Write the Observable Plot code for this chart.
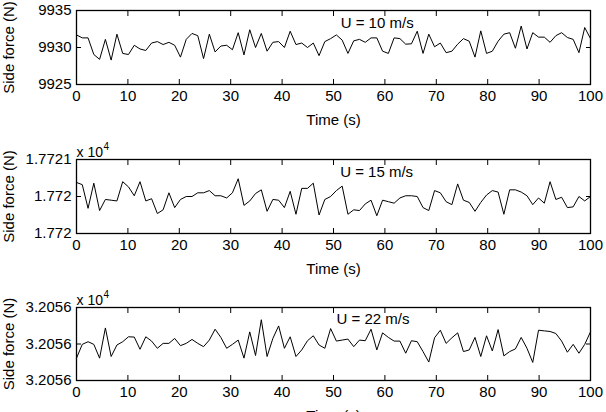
<!DOCTYPE html>
<html><head><meta charset="utf-8">
<script src="https://cdn.jsdelivr.net/npm/d3@7"></script>
<script src="https://cdn.jsdelivr.net/npm/@observablehq/plot@0.6"></script>
<style>
html,body{margin:0;padding:0;background:#fff;overflow:hidden;width:606px;height:412px}
.panel{height:148px;overflow:visible}
svg{overflow:visible}
</style></head><body><div id="c"></div>
<script>
const xTicks = [0,10,20,30,40,50,60,70,80,90,100];
const xLabel = "Time (s)";
const yLabel = "Side force (N)";

const u10 = [9931.7,9931.3,9931.3,9929.05,9928.4,9931.1,9928.3,9931.8,9929.2,9929.05,9930.3,9929.8,9929.6,9930.6,9930.8,9930.4,9930.7,9930.3,9928.7,9931.1,9931.9,9931.6,9928.5,9931.8,9929.4,9930.2,9930.3,9929.7,9932.0,9929.0,9932.4,9930.0,9931.9,9929.5,9930.7,9930.8,9930.0,9932.2,9930.4,9930.6,9930.0,9930.6,9928.9,9930.8,9931.2,
9931.7,9931.0,9929.2,9930.9,9931.1,9930.7,9931.3,9931.3,9929.5,9929.2,9931.3,9931.2,9930.45,9930.5,9932.2,9929.2,9931.8,9930.1,9930.6,9929.3,9929.5,9930.45,9931.2,9930.85,9928.7,9932.25,9929.2,9929.5,9930.85,9931.8,9932.0,9929.9,9932.9,9929.8,9932.0,9931.4,9931.4,9930.7,9931.6,9932.0,9931.35,9931.1,9929.3,9932.7,9931.2];

const u15 = [17720.69,17720.66,17720.34,17720.68,17720.31,17720.46,17720.45,17720.44,17720.70,17720.63,17720.51,17720.70,17720.44,17720.47,17720.27,17720.32,17720.55,17720.35,17720.46,17720.50,17720.50,17720.55,17720.55,17720.58,17720.51,17720.51,17720.48,17720.55,17720.74,17720.38,17720.44,17720.54,17720.59,17720.30,17720.46,17720.45,17720.35,17720.57,17720.26,17720.61,17720.61,17720.68,17720.25,17720.46,17720.50,
17720.58,17720.64,17720.26,17720.32,17720.31,17720.40,17720.45,17720.24,17720.45,17720.43,17720.41,17720.48,17720.51,17720.51,17720.50,17720.35,17720.31,17720.58,17720.55,17720.43,17720.39,17720.67,17720.45,17720.42,17720.30,17720.42,17720.52,17720.58,17720.56,17720.26,17720.59,17720.59,17720.56,17720.51,17720.39,17720.48,17720.41,17720.70,17720.46,17720.49,17720.35,17720.36,17720.50,17720.44,17720.50];

const u22 = [32055.845,32055.996,32056.025,32055.996,32055.845,32056.176,32055.863,32055.989,32056.025,32056.079,32056.076,32055.942,32056.079,32056.032,32055.953,32056.007,32056.007,32056.061,32055.982,32056.007,32056.050,32056.007,32055.971,32056.043,32056.162,32056.072,32055.953,32055.996,32056.043,32055.845,32056.133,32055.874,32056.266,32055.863,32056.061,32056.198,32055.953,32056.079,32055.863,32055.935,32056.036,32056.090,32055.989,32055.953,32056.169,
32056.032,32056.043,32056.054,32055.971,32056.043,32056.036,32056.162,32055.935,32056.122,32056.072,32056.032,32056.032,32055.899,32056.036,32056.025,32055.917,32055.802,32056.068,32056.151,32056.007,32056.068,32056.122,32055.917,32055.935,32056.072,32055.863,32056.090,32055.924,32056.158,32055.870,32055.917,32055.946,32056.072,32055.953,32055.798,32056.151,32056.144,32056.137,32056.115,32056.032,32055.910,32055.996,32055.899,32055.996,32056.133];

const yDomains = [[9925,9935],[17720,17721],[32055.6,32056.4]];
const yTickValues = [[9925,9930,9935],[17720,17720.5,17721],[32055.6,32056,32056.4]];
const yTickLabels = [["9925","9930","9935"],["1.772","1.772","1.7721"],["3.2056","3.2056","3.2056"]];
const annText = ["U = 10 m/s","U = 15 m/s","U = 22 m/s"];
const annX = [51.4, 51.3, 50.6];
const annY = [9933.24, 17720.83, 32056.27];
const exponentText = [null, "x 10", "x 10"];
const exponentPower = [null, "4", "4"];
const series = [u10, u15, u22];

const font = "'Liberation Sans', Arial, Helvetica, sans-serif";
const tops = [10, 11, 11];
const boxH = [74, 74, 73];

const container = document.getElementById("c");
series.forEach((vals, k) => {
  const n = vals.length;
  const data = vals.map((v, i) => ({t: i * 100 / (n - 1), v}));
  const ticks = yTickValues[k], labels = yTickLabels[k];
  const marks = [
    Plot.line(data, {x: "t", y: "v", stroke: "black", strokeWidth: 1}),
    Plot.frame({stroke: "black", strokeWidth: 1.3}),
    Plot.axisX({anchor: "bottom", ticks: xTicks, tickSize: -5, fill: "none", label: null}),
    Plot.axisX({anchor: "top", ticks: xTicks, tickSize: -5, fill: "none", label: null}),
    Plot.axisX({anchor: "bottom", ticks: xTicks, tickSize: 0, tickPadding: 6, fontSize: 15, label: xLabel, labelAnchor: "center", labelOffset: 40, labelArrow: "none"}),
    Plot.axisY({anchor: "left", ticks: ticks, tickSize: -5, fill: "none", label: null}),
    Plot.axisY({anchor: "right", ticks: ticks, tickSize: -5, fill: "none", label: null}),
    Plot.axisY({anchor: "left", ticks: ticks, tickSize: 0, tickPadding: 5, tickFormat: d => labels[ticks.indexOf(d)], fontSize: 15, label: yLabel, labelAnchor: "center", labelOffset: 73, labelArrow: "none"}),
    Plot.text([annText[k]], {x: () => annX[k], y: () => annY[k], text: d => d, textAnchor: "start", fontSize: 15, fill: "black"})
  ];
  if (exponentText[k]) {
    marks.push(Plot.text([exponentText[k]], {frameAnchor: "top-left", text: d => d, textAnchor: "start", dy: -12, fontSize: 14, fill: "black"}));
    marks.push(Plot.text([exponentPower[k]], {frameAnchor: "top-left", text: d => d, textAnchor: "start", dx: 27, dy: -17, fontSize: 10, fill: "black"}));
  }
  const p = Plot.plot({
    width: 606, height: 148,
    marginLeft: 76, marginRight: 16, marginTop: tops[k], marginBottom: 148 - tops[k] - boxH[k],
    style: {fontFamily: font, fontSize: "15px", color: "black", background: "white", overflow: "visible"},
    x: {domain: [0, 100]},
    y: {domain: yDomains[k]},
    marks
  });
  const d = document.createElement("div");
  d.className = "panel";
  d.appendChild(p);
  container.appendChild(d);
});
</script></body></html>
